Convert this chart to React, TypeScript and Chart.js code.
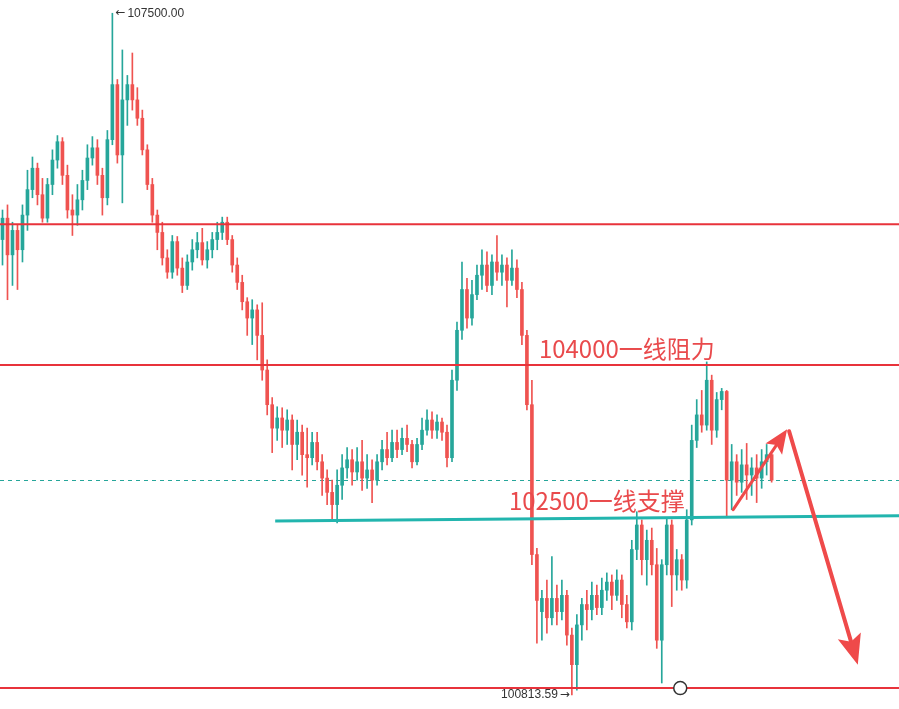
import React, { useEffect, useRef } from 'react';
import { Chart, registerables } from 'chart.js';

Chart.register(...registerables);

// ---- candle data (BTC, ~5 min bars) ----
const opens = [
  105280,105490,105130,105370,105180,105520,105770,105980,105720,105490,
  105820,106060,106240,105910,105570,105520,105670,105860,106080,106180,
  105910,105690,106260,106800,106110,106650,106800,106650,106470,106160,
  105820,105520,105350,105100,104960,105260,105000,104830,105060,105180,
  105250,105080,105180,105280,105350,105450,105280,105030,104860,104670,
  104510,104590,104340,104000,103660,103430,103530,103410,103510,103270,
  103390,103170,103140,103290,103100,102940,102800,102680,102870,103040,
  103120,103000,103100,102940,103020,102920,103100,103220,103140,103290,
  103220,103330,103270,103100,103270,103410,103510,103410,103490,103390,
  103140,103900,104390,104790,104510,104740,104930,105030,104830,105060,
  104960,105030,104880,105000,104790,104340,103660,102190,101630,101760,
  101570,101760,101630,101790,101400,101110,101500,101700,101650,101790,
  101670,101840,101920,101790,101940,101700,101530,102240,102480,102140,
  102330,102090,101350,102090,102480,101990,102140,101940,102530,103310,
  103560,103460,103900,103410,103710,103790,102920,103100,102900,103070,
  102970,103040,102940,103100,103170,
];
const highs = [
  105570,105620,105450,105420,105620,105960,106090,106030,105880,105880,
  106160,106300,106280,106010,105720,105820,105960,106210,106290,106260,
  105980,106350,107500,106850,107140,106890,107110,106770,106550,106210,
  105880,105570,105450,105180,105320,105310,105100,105130,105280,105350,
  105390,105260,105350,105450,105500,105500,105320,105100,104930,104710,
  104690,104640,104660,104100,103730,103640,103630,103610,103560,103510,
  103460,103430,103390,103390,103170,103020,102920,103020,103170,103240,
  103220,103240,103310,103170,103120,103170,103310,103390,103410,103410,
  103430,103460,103310,103330,103530,103610,103590,103560,103530,103460,
  104000,104470,105060,104900,104880,105030,105180,105160,105130,105320,
  105130,105100,105180,105080,104860,104390,103900,102250,101840,101940,
  102170,101890,101940,101840,101470,101600,101760,101840,101920,101890,
  101960,102010,101990,102040,101990,101790,102330,102610,102530,102430,
  102450,102250,102140,102550,102530,102240,102190,102630,103460,103710,
  103800,104080,103950,103780,103820,103800,103270,103170,103220,103280,
  103140,103170,103220,103270,103170,
];
const lows = [
  105030,104690,104830,104790,105060,105370,105690,105620,105450,105450,
  105720,105980,105820,105490,105320,105420,105570,105770,106010,105820,
  105520,105620,106210,106030,105640,106400,106550,106400,106110,105770,
  105450,105180,105030,104900,104900,104930,104760,104790,104980,105100,
  105030,105000,105100,105180,105280,105230,104960,104790,104590,104340,
  104250,104100,103900,103560,103190,103310,103240,103270,103020,103120,
  102970,102850,103070,103020,102770,102680,102530,102500,102730,102940,
  102870,102920,102820,102840,102700,102870,103020,103070,103100,103140,
  103170,103200,103040,103070,103220,103360,103330,103330,103310,103050,
  103100,103800,104300,104410,104440,104690,104790,104770,104740,104880,
  104830,104620,104830,104710,104250,103610,102090,101320,101350,101420,
  101500,101500,101550,101300,100813.59,100860,101350,101450,101550,101600,
  101600,101740,101650,101740,101570,101470,101450,102140,101990,101890,
  101990,101270,100930,101990,101680,101840,101840,101860,102480,103240,
  103390,103410,103270,103340,103610,102560,102630,102770,102800,102730,
  102770,102700,102840,102970,102900,
];
const closes = [
  105490,105130,105370,105180,105520,105770,105980,105720,105490,105820,
  106060,106240,105910,105570,105520,105670,105860,106080,106180,105910,
  105690,106260,106800,106110,106650,106800,106650,106470,106160,105820,
  105520,105350,105100,104960,105260,105000,104830,105060,105180,105250,
  105080,105180,105280,105350,105450,105280,105030,104860,104670,104510,
  104590,104340,104000,103660,103430,103530,103410,103510,103270,103390,
  103170,103140,103290,103100,102940,102800,102680,102870,103040,103120,
  103000,103100,102940,103020,102920,103100,103220,103140,103290,103220,
  103330,103270,103100,103270,103410,103510,103410,103490,103390,103140,
  103900,104390,104790,104510,104740,104930,105030,104830,105060,104960,
  105030,104880,105000,104790,104340,103660,102190,101740,101760,101570,
  101760,101630,101790,101400,101110,101500,101700,101650,101790,101670,
  101840,101920,101790,101940,101700,101530,102240,102480,102140,102330,
  102090,101350,102090,102480,101990,102140,101940,102530,103310,103560,
  103460,103900,103410,103710,103790,102920,103100,102900,103070,102970,
  103040,102940,103100,103170,102920,
];

const futureSlots = 25;
const priceMin = 100675;
const priceMax = 107630;

// ---- drawn levels / annotations (slot index, price) ----
const redLevels = [105430, 104050, 100880];
const lastPrice = 102920;
const supportLineFrom = [54.6, 102520];
const supportLineTo = [179.5, 102570];
const smallArrowFrom = [146.3, 102630];
const smallArrowTo = [157.1, 103420];
const bigArrowFrom = [157.5, 103400];
const bigArrowTo = [171.25, 101110];
const circlePoint = [135.7, 100880];
const resistanceText = '104000一线阻力';
const resistanceTextAt = [107.4, 104115];
const supportText = '102500一线支撑';
const supportTextAt = [101.4, 102627];

const UP = '#26a69a';
const DOWN = '#ef5350';
const LINE_RED = '#e8333b';
const ARROW_RED = '#ef4a4a';
const TEXT_RED = '#e94a4c';
const CYAN = '#22b5ae';

function drawArrow(ctx: CanvasRenderingContext2D, x1: number, y1: number, x2: number, y2: number,
  width: number, headLen: number, headHalf: number, color: string) {
  const ang = Math.atan2(y2 - y1, x2 - x1);
  const c = Math.cos(ang), s = Math.sin(ang);
  const bx = x2 - headLen * c, by = y2 - headLen * s;
  const nx = -s, ny = c;
  ctx.save();
  ctx.strokeStyle = color;
  ctx.lineWidth = width;
  ctx.lineCap = 'round';
  ctx.beginPath();
  ctx.moveTo(x1, y1);
  ctx.lineTo(x2 - headLen * 0.6 * c, y2 - headLen * 0.6 * s);
  ctx.stroke();
  ctx.fillStyle = color;
  ctx.beginPath();
  ctx.moveTo(x2, y2);
  ctx.lineTo(bx + nx * headHalf, by + ny * headHalf);
  ctx.lineTo(x2 - headLen * 0.8 * c, y2 - headLen * 0.8 * s);
  ctx.lineTo(bx - nx * headHalf, by - ny * headHalf);
  ctx.closePath();
  ctx.fill();
  ctx.restore();
}

const annotationPlugin = {
  id: 'tvAnnotations',
  beforeDatasetsDraw(chart: any) {
    const { ctx, chartArea, scales } = chart;
    const y = scales.y;
    ctx.save();
    ctx.strokeStyle = UP;
    ctx.lineWidth = 1;
    ctx.setLineDash([4, 4]);
    const yy = Math.round(y.getPixelForValue(lastPrice)) + 0.5;
    ctx.beginPath();
    ctx.moveTo(chartArea.left, yy);
    ctx.lineTo(chartArea.right, yy);
    ctx.stroke();
    ctx.restore();
  },
  afterDatasetsDraw(chart: any) {
    const { ctx, chartArea, scales } = chart;
    const x = scales.x, y = scales.y;
    const px = (p: number[]) => [x.getPixelForValue(p[0]), y.getPixelForValue(p[1])];
    ctx.save();
    // red horizontal levels
    ctx.strokeStyle = LINE_RED;
    ctx.lineWidth = 2;
    redLevels.forEach((lv) => {
      const yy = y.getPixelForValue(lv);
      ctx.beginPath();
      ctx.moveTo(chartArea.left, yy);
      ctx.lineTo(chartArea.right, yy);
      ctx.stroke();
    });
    // support trend line
    const [sx1, sy1] = px(supportLineFrom);
    const [sx2, sy2] = px(supportLineTo);
    ctx.strokeStyle = CYAN;
    ctx.lineWidth = 3;
    ctx.beginPath();
    ctx.moveTo(sx1, sy1);
    ctx.lineTo(sx2, sy2);
    ctx.stroke();
    // arrows
    const [a1x, a1y] = px(smallArrowFrom);
    const [a2x, a2y] = px(smallArrowTo);
    drawArrow(ctx, a1x, a1y, a2x, a2y, 3, 24, 10, ARROW_RED);
    const [b1x, b1y] = px(bigArrowFrom);
    const [b2x, b2y] = px(bigArrowTo);
    drawArrow(ctx, b1x, b1y, b2x, b2y, 4, 30, 12, ARROW_RED);
    // circle marker
    const [cx, cy] = px(circlePoint);
    ctx.fillStyle = '#ffffff';
    ctx.strokeStyle = '#333333';
    ctx.lineWidth = 1.5;
    ctx.beginPath();
    ctx.arc(cx, cy, 6.5, 0, Math.PI * 2);
    ctx.fill();
    ctx.stroke();
    // big labels
    ctx.fillStyle = TEXT_RED;
    ctx.font = '24px "Noto Sans CJK SC", "Noto Sans", sans-serif';
    ctx.textAlign = 'left';
    ctx.textBaseline = 'alphabetic';
    const [t1x, t1y] = px(resistanceTextAt);
    ctx.fillText(resistanceText, t1x, t1y);
    const [t2x, t2y] = px(supportTextAt);
    ctx.fillText(supportText, t2x, t2y);
    // high / low price labels
    let hi = 0, lo = 0;
    highs.forEach((h, i) => { if (h > highs[hi]) hi = i; });
    lows.forEach((l, i) => { if (l < lows[lo]) lo = i; });
    ctx.fillStyle = '#333333';
    ctx.textBaseline = 'middle';
    const numFont = '12px "Liberation Sans", Arial, sans-serif';
    const arrowFont = '12px "DejaVu Sans", sans-serif';
    const hx = x.getPixelForValue(hi), hy = y.getPixelForValue(highs[hi]);
    ctx.textAlign = 'left';
    ctx.font = arrowFont;
    ctx.fillText('\u2190', hx + 3, hy);
    const aw = ctx.measureText('\u2190').width;
    ctx.font = numFont;
    ctx.fillText(highs[hi].toFixed(2), hx + 5 + aw, hy);
    const lx = x.getPixelForValue(lo), ly = y.getPixelForValue(lows[lo]);
    ctx.textAlign = 'right';
    ctx.font = arrowFont;
    ctx.fillText('\u2192', lx - 2, ly);
    const bw = ctx.measureText('\u2192').width;
    ctx.font = numFont;
    ctx.fillText(lows[lo].toFixed(2), lx - 4 - bw, ly);
    ctx.restore();
  },
};

export default function App() {
  const ref = useRef<HTMLCanvasElement | null>(null);
  useEffect(() => {
    if (!ref.current) return;
    const n = opens.length;
    const labels = Array.from({ length: n + futureSlots }, (_, i) => String(i));
    const colors = opens.map((o, i) => (closes[i] >= o ? UP : DOWN));
    const chart = new Chart(ref.current, {
      type: 'bar',
      data: {
        labels,
        datasets: [
          {
            label: 'body',
            data: opens.map((o, i) => [o, closes[i]]) as any,
            backgroundColor: colors,
            borderWidth: 0,
            barThickness: 3,
            minBarLength: 1,
            grouped: false,
          } as any,
          {
            label: 'wick',
            data: lows.map((l, i) => [l, highs[i]]) as any,
            backgroundColor: colors,
            borderWidth: 0,
            barThickness: 1,
            grouped: false,
          } as any,
        ],
      },
      options: {
        animation: false,
        responsive: false,
        devicePixelRatio: 1,
        layout: { padding: 0 },
        plugins: { legend: { display: false }, tooltip: { enabled: false } },
        scales: {
          x: { display: false, offset: true, grid: { display: false } },
          y: { display: false, min: priceMin, max: priceMax, grid: { display: false } },
        },
      },
      plugins: [annotationPlugin],
    });
    return () => chart.destroy();
  }, []);
  return (
    <div style={{ position: 'absolute', left: 0, top: 0, width: 899, height: 709, background: '#ffffff' }}>
      <canvas ref={ref} width={899} height={709} style={{ display: 'block' }} />
    </div>
  );
}
